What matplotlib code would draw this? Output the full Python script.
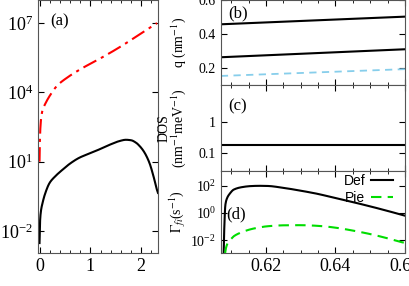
import numpy as np
import matplotlib
matplotlib.use('Agg')
import matplotlib.pyplot as plt
from matplotlib.ticker import MultipleLocator, FixedLocator, FixedFormatter

plt.rcParams['font.family'] = 'Liberation Serif'
plt.rcParams['mathtext.fontset'] = 'stix'
plt.rcParams['font.size'] = 10

# panel (a): rates vs magnetic field (log10 values)
B_red = [0.0, 0.005, 0.015, 0.03, 0.06, 0.1, 0.2, 0.35, 0.53, 0.84,
         1.12, 1.57, 1.96, 2.31]
log_red = [1.0, 1.7, 2.4, 2.85, 3.24, 3.45, 3.85, 4.3, 4.62, 5.05,
           5.38, 5.95, 6.5, 7.0]
B_blk = [0.0, 0.01, 0.03, 0.06, 0.1, 0.2, 0.3, 0.45, 0.6, 0.78, 0.95, 1.12,
         1.3, 1.43, 1.55, 1.7, 1.8, 1.9, 1.96, 2.05, 2.16, 2.25, 2.31, 2.33]
log_blk = [-2.52, -1.6, -1.1, -0.78, -0.45, 0.09, 0.35, 0.65, 0.92, 1.17, 1.33, 1.48,
           1.66, 1.78, 1.88, 1.95, 1.93, 1.82, 1.7, 1.45, 0.96, 0.3, -0.22, -0.35]

# panel (b): wavevectors vs energy
E_q = [0.607, 0.66]
q_top = [0.457, 0.502]
q_mid = [0.263, 0.31]
q_dash = [0.153, 0.193]

# panel (c): density of states
E_dos = [0.607, 0.66]
dos = [0.18, 0.18]

# panel (d): Def and Pie rates (log10 values)
E_def = [0.6078, 0.6080, 0.6083, 0.6088, 0.6095, 0.6107, 0.613, 0.6156, 0.618, 0.6204,
         0.625, 0.63, 0.635, 0.6394, 0.645, 0.649, 0.654, 0.6593, 0.66]
log_def = [-3.0, -1.0, 0.6, 1.1, 1.4, 1.72, 1.9, 1.98, 2.0, 1.99,
           1.85, 1.64, 1.4, 1.13, 0.8, 0.55, 0.22, -0.15, -0.2]
E_pie = [0.6082, 0.6085, 0.6090, 0.6100, 0.6107, 0.613, 0.6156, 0.618, 0.6204, 0.625,
         0.63, 0.635, 0.639, 0.644, 0.649, 0.654, 0.659, 0.66]
log_pie = [-3.0, -2.55, -2.2, -1.9, -1.72, -1.42, -1.2, -1.07, -0.98, -0.91,
           -0.9, -0.95, -1.05, -1.25, -1.5, -1.8, -2.15, -2.2]


def pchip(x, y, n=600):
    # monotone cubic hermite through the read points
    x = np.asarray(x, float)
    y = np.asarray(y, float)
    h = np.diff(x)
    d = np.diff(y) / h
    m = np.zeros_like(y)
    for k in range(1, len(x) - 1):
        if d[k - 1] * d[k] > 0:
            w1 = 2 * h[k] + h[k - 1]
            w2 = h[k] + 2 * h[k - 1]
            m[k] = (w1 + w2) / (w1 / d[k - 1] + w2 / d[k])
    m[0] = d[0]
    m[-1] = d[-1]
    xs = np.linspace(x[0], x[-1], n)
    i = np.clip(np.searchsorted(x, xs) - 1, 0, len(x) - 2)
    t = (xs - x[i]) / h[i]
    h00 = 2 * t**3 - 3 * t**2 + 1
    h10 = t**3 - 2 * t**2 + t
    h01 = -2 * t**3 + 3 * t**2
    h11 = t**3 - t**2
    ys = h00 * y[i] + h10 * h[i] * m[i] + h01 * y[i + 1] + h11 * h[i] * m[i + 1]
    return xs, ys


def style(ax):
    ax.tick_params(which='both', direction='in', top=True, right=True)
    ax.tick_params(which='major', length=4)
    ax.tick_params(which='minor', length=2)
    for s in ax.spines.values():
        s.set_color('#555555')


fig = plt.figure(figsize=(4.09, 2.86), dpi=100)

axa = fig.add_axes([0.0929, 0.1154, 0.2934, 0.8846])
xr, yr = pchip(B_red, log_red)
axa.plot(xr, 10 ** yr, color='red', ls=(0, (7, 2.5, 1.5, 2.5)), lw=1.5)
xb, yb = pchip(B_blk, log_blk)
axa.plot(xb, 10 ** yb, color='black', lw=1.5)
axa.set_yscale('log')
axa.set_ylim(10 ** -2.95, 1e8)
axa.set_xlim(-0.03, 2.33)
axa.yaxis.set_major_locator(FixedLocator([1e-2, 1e1, 1e4, 1e7]))
axa.yaxis.set_minor_locator(FixedLocator([]))
axa.xaxis.set_major_locator(MultipleLocator(1))
axa.xaxis.set_minor_locator(MultipleLocator(0.2))
axa.tick_params(labelsize=13)
axa.set_xlabel('B (T)', fontsize=13)
axa.xaxis.set_label_coords(0.5, -0.26)
axa.set_ylabel(r'$\Gamma$ (s$^{-1}$)', fontsize=13)
axa.yaxis.set_label_coords(-0.36, 0.5)
axa.text(0.1, 0.9, '(a)', transform=axa.transAxes, fontsize=12)
style(axa)

left, width = 0.540, 0.450
axb = fig.add_axes([left, 0.703, width, 0.297])
axb.plot(E_q, q_top, color='black', lw=1.5)
axb.plot(E_q, q_mid, color='black', lw=1.5)
axb.plot(E_q, q_dash, color='#87ceeb', ls=(0, (4, 3)), lw=1.3)
axb.set_ylim(0.1, 0.6)
axb.set_yticks([0.2, 0.4, 0.6])
axb.set_ylabel('q (nm$^{-1}$)', fontsize=10)
axb.text(0.04, 0.8, '(b)', transform=axb.transAxes, fontsize=12)

axc = fig.add_axes([left, 0.402, width, 0.301])
axc.plot(E_dos, dos, color='black', lw=1.5)
axc.set_yscale('log')
axc.set_ylim(10 ** -1.58, 10 ** 1.19)
axc.yaxis.set_major_locator(FixedLocator([0.1, 1]))
axc.yaxis.set_major_formatter(FixedFormatter(['0.1', '1']))
axc.yaxis.set_minor_locator(FixedLocator([]))
axc.set_ylabel('DOS\n(nm$^{-1}$meV$^{-1}$)', fontsize=10, linespacing=0.9)
axc.text(0.04, 0.7, '(c)', transform=axc.transAxes, fontsize=12)

axd = fig.add_axes([left, 0.1154, width, 0.2866])
xd, yd = pchip(E_def, log_def)
axd.plot(xd, 10 ** yd, color='black', lw=1.5, label='Def')
xp, yp = pchip(E_pie, log_pie)
axd.plot(xp, 10 ** yp, color='#00dd00', ls=(0, (5, 3)), lw=1.5, label='Pie')
axd.set_yscale('log')
axd.set_ylim(10 ** -2.95, 10 ** 3.09)
axd.yaxis.set_major_locator(FixedLocator([1e-2, 1, 1e2]))
axd.yaxis.set_minor_locator(FixedLocator([]))
axd.set_ylabel(r'$\Gamma_{fi}$(s$^{-1}$)', fontsize=10)
axd.text(0.03, 0.42, '(d)', transform=axd.transAxes, fontsize=12)
axd.set_xlabel('E (eV)', fontsize=13)
axd.xaxis.set_label_coords(0.5, -0.72)
leg = axd.legend(loc='upper right', bbox_to_anchor=(0.95, 1.0), frameon=False,
                 markerfirst=False,
                 prop={'family': 'Liberation Sans', 'size': 10},
                 handlelength=1.6, handletextpad=0.4, borderaxespad=0.1,
                 borderpad=0.1, labelspacing=0.25)

for ax in (axb, axc, axd):
    ax.set_xlim(0.607, 0.66)
    ax.xaxis.set_major_locator(MultipleLocator(0.02))
    ax.xaxis.set_minor_locator(MultipleLocator(0.005))
    ax.tick_params(labelsize=10)
    ax.yaxis.set_label_coords(-0.18, 0.5)
    style(ax)
axb.tick_params(labelbottom=False)
axc.tick_params(labelbottom=False)
axd.tick_params(axis='x', labelsize=13)
axd.set_xticks([0.62, 0.64, 0.66])
axd.set_xticklabels(['0.62', '0.64', '0.66'])

fig.savefig('out.png', dpi=100)
